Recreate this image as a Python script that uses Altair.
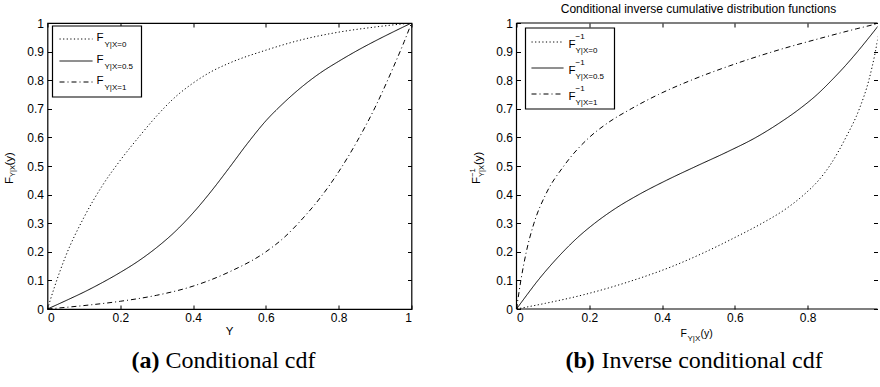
import altair as alt
import pandas as pd

# ---------------- data ----------------
SERIES = ["X=0", "X=0.5", "X=1"]

# F_{Y|X=0}(y)  (dotted)
Y_X0 = [0, 0.02, 0.05, 0.1, 0.15, 0.2, 0.25, 0.3, 0.35, 0.4, 0.45, 0.5, 0.6, 0.7, 0.8, 0.9, 1.0]
F_X0 = [0, 0.08, 0.185, 0.32, 0.43, 0.52, 0.60, 0.675, 0.74, 0.79, 0.83, 0.86, 0.905,
        0.942, 0.968, 0.986, 1.0]

# F_{Y|X=0.5}(y)  (solid)
Y_X05 = [0, 0.05, 0.1, 0.15, 0.2, 0.25, 0.3, 0.35, 0.4, 0.45, 0.5, 0.55, 0.6, 0.65,
         0.7, 0.75, 0.8, 0.85, 0.9, 0.95, 1.0]
F_X05 = [0, 0.029, 0.059, 0.092, 0.128, 0.168, 0.215, 0.27, 0.336, 0.412, 0.495, 0.58,
         0.658, 0.722, 0.778, 0.826, 0.866, 0.903, 0.937, 0.969, 1.0]

# F_{Y|X=1}(y)  (dash-dot)
Y_X1 = [0, 0.1, 0.2, 0.3, 0.4, 0.5, 0.6, 0.65, 0.7, 0.75, 0.8, 0.85, 0.9, 0.95, 0.98, 1.0]
F_X1 = [0, 0.012, 0.027, 0.048, 0.08, 0.13, 0.2, 0.25, 0.315, 0.39, 0.48, 0.585,
        0.705, 0.845, 0.935, 1.0]

X_TICKS = [0, 0.2, 0.4, 0.6, 0.8, 1]
X_TICKS_R = [0, 0.2, 0.4, 0.6, 0.8]          # the "1" of panel (b) is cut off in the reference
Y_TICKS = [0, 0.1, 0.2, 0.3, 0.4, 0.5, 0.6, 0.7, 0.8, 0.9, 1]
X_MAX_R = 0.9918                              # panel (b) is cropped at the right page edge

LEGEND_SUBS = ["Y|X=0", "Y|X=0.5", "Y|X=1"]
TITLE_RIGHT = "Conditional inverse cumulative distribution functions"
CAPTIONS = [("(a)", "Conditional cdf"), ("(b)", "Inverse conditional cdf")]

# ---------------- styling ----------------
SANS = "Liberation Sans"
SERIF = "Liberation Serif"
W, H = 364, 286
W_R = 361
DASHES = [[1.2, 2.4], [1, 0], [5, 3, 1, 3]]

rows = []
for name, ys, fs in [("X=0", Y_X0, F_X0), ("X=0.5", Y_X05, F_X05), ("X=1", Y_X1, F_X1)]:
    for a, b in zip(ys, fs):
        rows.append({"s": name, "y": a, "F": b})
df = pd.DataFrame(rows)
one = pd.DataFrame({"k": [0]})
origin = pd.DataFrame({"y": [0.0], "F": [0.0]})   # carrier for the top/right tick-only axes

dash_scale = alt.Scale(domain=SERIES, range=DASHES)


def axis(orient, values, labels=True):
    kw = dict(orient=orient, values=values, format="~g", grid=False, domain=False,
              ticks=True, tickSize=4, tickColor="black", tickWidth=1, offset=-4,
              title=None, labels=labels)
    if labels:
        kw.update(labelFont=SANS, labelFontSize=12, labelColor="black",
                  labelPadding=4 if orient in ("left", "right") else 3)
    return alt.Axis(**kw)


def txt(s, x, y, size, font=SANS, align="left", baseline="alphabetic", angle=0, weight="normal"):
    m = dict(text=s, font=font, fontSize=size, align=align, baseline=baseline,
             color="black", fontWeight=weight)
    if angle:
        m["angle"] = angle
    return alt.Chart(one).mark_text(**m).encode(x=alt.value(x), y=alt.value(y))


def rule(**enc):
    return alt.Chart(one).mark_rule(color="black", strokeWidth=1.2).encode(
        **{k: alt.value(v) for k, v in enc.items()})


def panel(xfield, yfield, xscale, xticks, width, legend_layers, extra_layers):
    yscale = alt.Scale(domain=[0, 1], nice=False, zero=False)
    lines = alt.Chart(df).mark_line(color="black", strokeWidth=1, interpolate="monotone",
                                    clip=True).encode(
        x=alt.X(f"{xfield}:Q", scale=xscale, axis=axis("bottom", xticks)),
        y=alt.Y(f"{yfield}:Q", scale=yscale, axis=axis("left", Y_TICKS)),
        strokeDash=alt.StrokeDash("s:N", scale=dash_scale, legend=None),
        order=alt.Order(f"{xfield}:Q"),
    )
    frame_ticks = alt.Chart(origin).mark_point(opacity=0, size=0).encode(
        x=alt.X(f"{xfield}:Q", scale=xscale, axis=axis("top", xticks, labels=False)),
        y=alt.Y(f"{yfield}:Q", scale=yscale, axis=axis("right", Y_TICKS, labels=False)),
    )
    return alt.layer(lines, frame_ticks, *extra_layers, *legend_layers).resolve_axis(
        x="independent", y="independent").properties(width=width, height=H)


def legend(box, x0, x1, ys, fx, sx, f_dy, sub_dy, sup_dy=None):
    layers = [alt.Chart(one).mark_rect(fill="white", stroke="black", strokeWidth=1.2).encode(
        x=alt.value(box[0]), x2=alt.value(box[2]), y=alt.value(box[1]), y2=alt.value(box[3]))]
    for i, yy in enumerate(ys):
        layers.append(alt.Chart(one).mark_rule(color="black", strokeWidth=1, strokeDash=DASHES[i]).encode(
            x=alt.value(x0), x2=alt.value(x1), y=alt.value(yy)))
        layers.append(txt("F", fx, yy + f_dy, 11.5))
        layers.append(txt(LEGEND_SUBS[i], sx, yy + sub_dy, 8))
        if sup_dy is not None:
            layers.append(txt("\u22121", sx, yy + sup_dy, 8))
    return layers


# ---------- left panel ----------
left_extra = [
    txt("F", -35, 161, 11.5, angle=270),
    txt("Y|X", -32.5, 154, 7.5, angle=270),
    txt("(y)", -35, 142.5, 11.5, angle=270),
    txt("Y", 182, 312, 11.5, align="center"),
    txt(CAPTIONS[0][0], 84, 345, 24, font=SERIF, weight="bold"),
    txt(CAPTIONS[0][1], 118, 345, 24, font=SERIF),
]
left = panel("y", "F", alt.Scale(domain=[0, 1], nice=False, zero=False), X_TICKS, W,
             legend((5, 3, 94, 74), 12, 45, [16, 38, 59], 49, 57, 1.5, 7.5), left_extra)

# ---------- right panel ----------
right_extra = [
    # frame (the right edge is outside the page)
    rule(x=0, x2=W_R, y=0),
    rule(x=0, x2=W_R, y=H),
    rule(x=0, y=0, y2=H),
    txt(TITLE_RIGHT, 182, -14, 12, align="center", baseline="middle"),
    txt("F", -37, 161, 11.5, angle=270),
    txt("\u22121", -42, 154, 7.5, angle=270),
    txt("Y|X", -33, 154, 7.5, angle=270),
    txt("(y)", -35, 142, 11.5, angle=270),
    txt("F", 164, 314, 10.5),
    txt("Y|X", 171, 317.5, 8),
    txt("(y)", 184, 314, 10.5),
    txt(CAPTIONS[1][0], 49, 345, 24, font=SERIF, weight="bold"),
    txt(CAPTIONS[1][1], 85, 345, 24, font=SERIF),
]
right = panel("F", "y", alt.Scale(domain=[0, X_MAX_R], nice=False, zero=False), X_TICKS_R, W_R,
              legend((9, 5, 98, 86), 15, 47, [19, 45, 71], 52, 59, 5.5, 11, -3),
              right_extra).properties(view=alt.ViewBackground(stroke="transparent"))

chart = alt.hconcat(left, right, spacing=105, bounds="flush").properties(
    padding={"left": 2.5, "top": 2, "right": 0, "bottom": 0},
    background="white",
).configure_view(stroke="black", strokeWidth=1.2)

chart.save("out.html", embed_options={"renderer": "svg", "actions": False})
